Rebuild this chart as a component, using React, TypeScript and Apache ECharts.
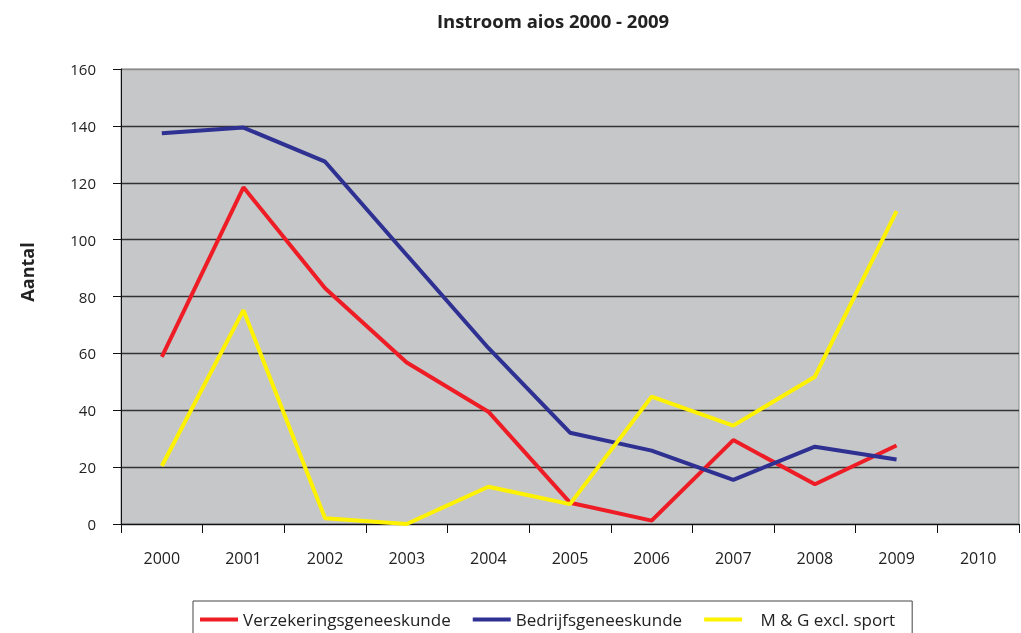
import React, { useEffect, useRef } from "react";
import * as echarts from "echarts";

const years = ["2000", "2001", "2002", "2003", "2004", "2005", "2006", "2007", "2008", "2009", "2010"];
const verzekering = [58.8, 118.4, 82.9, 56.8, 39.5, 7.5, 1.2, 29.5, 14, 27.6, null];
const bedrijf = [137.4, 139.4, 127.4, 94.6, 61.9, 32.1, 25.8, 15.5, 27.2, 22.7, null];
const mg = [20.4, 75.2, 2, 0, 13.1, 7, 44.8, 34.6, 51.8, 110, null];
const seriesNames = ["Verzekeringsgeneeskunde", "Bedrijfsgeneeskunde", "M & G excl. sport"];
const colors = ["#ee1c25", "#2e3192", "#fff200"];

export default function App() {
  const ref = useRef<HTMLDivElement>(null);
  useEffect(() => {
    document.body.style.margin = "0";
    const chart = echarts.init(ref.current!, null, { renderer: "svg" });
    const font = "'Open Sans', sans-serif";
    const gridColors = ["#333", "#333", "#333", "#333", "#333", "#333", "#333", "#333", "#8c8c8c"];
    chart.setOption({
      animation: false,
      textStyle: { fontFamily: font },
      title: {
        text: "Instroom aios 2000 - 2009",
        left: 548,
        textAlign: "center",
        top: 6,
        textStyle: { fontFamily: font, fontSize: 18.5, fontWeight: "bold", color: "#222" },
      },
      graphic: [
        {
          type: "text",
          x: 27,
          y: 272,
          rotation: Math.PI / 2,
          style: {
            text: "Aantal",
            font: "bold 18px 'Open Sans', sans-serif",
            fill: "#222",
            align: "center",
            verticalAlign: "middle",
          },
        },
      ],
      legend: {
        left: 193,
        top: 601,
        width: 800,
        data: seriesNames,
        icon: "rect",
        itemWidth: 38,
        itemHeight: 4,
        itemGap: 22,
        borderColor: "#444",
        borderWidth: 1,
        padding: [10, 17, 14, 7],
        formatter: (name: string) => (name === seriesNames[2] ? "   " + name : name),
        textStyle: { fontFamily: font, fontSize: 17, color: "#222" },
      },
      grid: {
        left: 121,
        right: 2,
        top: 69,
        bottom: 109,
        show: true,
        backgroundColor: "#c6c7c9",
        borderColor: "#8c8c8c",
        borderWidth: 1,
      },
      xAxis: {
        type: "category",
        data: years,
        boundaryGap: true,
        axisLine: { lineStyle: { color: "#111", width: 1 } },
        axisTick: { show: true, length: 9, inside: false, lineStyle: { color: "#111" } },
        axisLabel: { color: "#222", fontSize: 16, margin: 26, fontFamily: font },
        splitLine: { show: false },
      },
      yAxis: {
        type: "value",
        min: 0,
        max: 160,
        interval: 20,
        axisLine: { show: true, lineStyle: { color: "#111", width: 1 } },
        axisTick: { show: true, length: 8, lineStyle: { color: "#111" } },
        axisLabel: { color: "#222", fontSize: 15, margin: 25, fontFamily: font },
        splitLine: { show: true, lineStyle: { color: gridColors, width: 1.3 } },
      },
      series: [verzekering, bedrijf, mg].map((d, i) => ({
        name: seriesNames[i],
        type: "line",
        data: d,
        symbol: "none",
        color: colors[i],
        lineStyle: { color: colors[i], width: 4 },
        itemStyle: { color: colors[i] },
      })),
    });
    return () => chart.dispose();
  }, []);
  return <div ref={ref} style={{ position: "fixed", left: 0, top: 0, width: 1021, height: 633 }} />;
}
